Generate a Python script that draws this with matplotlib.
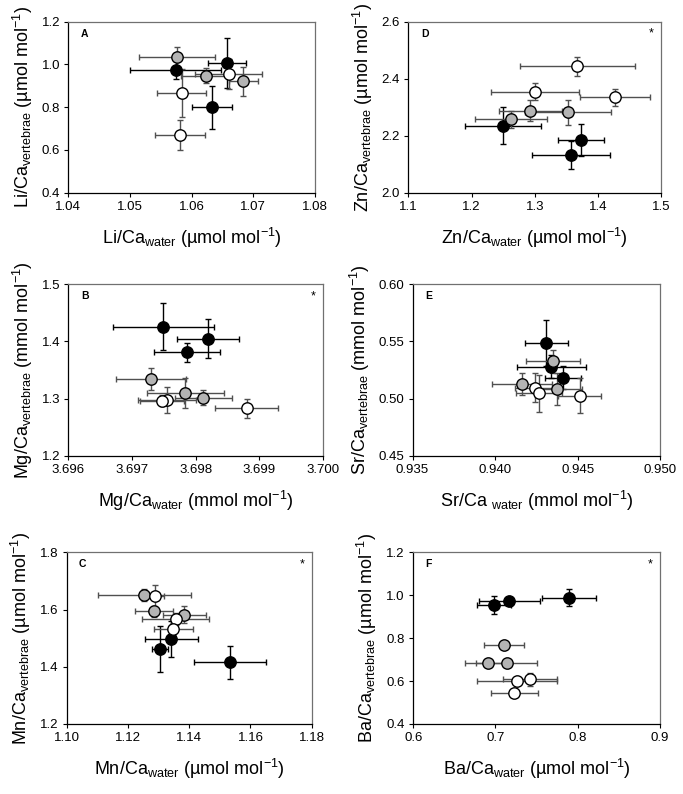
import numpy as np
import matplotlib
matplotlib.use('Agg')
import matplotlib.pyplot as plt

plt.rcParams['font.family'] = ['Liberation Sans', 'DejaVu Sans']
plt.rcParams['mathtext.fontset'] = 'custom'
plt.rcParams['mathtext.rm'] = 'Liberation Sans'
plt.rcParams['mathtext.it'] = 'Liberation Sans:italic'

# === DATA ===
# each panel: black / grey / white groups -> x, y, xerr, yerr

# A  Li/Ca
li_black_x = [1.0574, 1.0657, 1.0633]
li_black_y = [0.974, 1.005, 0.799]
li_black_xe = [0.0074, 0.0031, 0.0032]
li_black_ye = [0.040, 0.117, 0.100]
li_grey_x = [1.0576, 1.0623, 1.0684]
li_grey_y = [1.036, 0.947, 0.922]
li_grey_xe = [0.0062, 0.0040, 0.0023]
li_grey_ye = [0.047, 0.035, 0.068]
li_white_x = [1.0660, 1.0584, 1.0581]
li_white_y = [0.955, 0.865, 0.670]
li_white_xe = [0.0055, 0.0040, 0.0041]
li_white_ye = [0.070, 0.113, 0.070]

# B  Mg/Ca
mg_black_x = [3.69749, 3.69819, 3.69786]
mg_black_y = [1.4256, 1.4041, 1.3808]
mg_black_xe = [0.00079, 0.00049, 0.00052]
mg_black_ye = [0.041, 0.034, 0.017]
mg_grey_x = [3.69730, 3.69784, 3.69812]
mg_grey_y = [1.3343, 1.3093, 1.3017]
mg_grey_xe = [0.00055, 0.00060, 0.00045]
mg_grey_ye = [0.020, 0.026, 0.013]
mg_white_x = [3.69755, 3.69747, 3.69880]
mg_white_y = [1.2977, 1.2967, 1.2831]
mg_white_xe = [0.00045, 0.00035, 0.00050]
mg_white_ye = [0.022, 0.010, 0.017]

# C  Mn/Ca
mn_black_x = [1.1341, 1.1305, 1.1533]
mn_black_y = [1.497, 1.462, 1.4155]
mn_black_xe = [0.0087, 0.0027, 0.0117]
mn_black_ye = [0.063, 0.080, 0.057]
mn_grey_x = [1.1253, 1.1286, 1.1384]
mn_grey_y = [1.651, 1.594, 1.582]
mn_grey_xe = [0.0152, 0.0062, 0.0070]
mn_grey_ye = [0.020, 0.020, 0.030]
mn_white_x = [1.1288, 1.1356, 1.1348]
mn_white_y = [1.646, 1.567, 1.532]
mn_white_xe = [0.0030, 0.0109, 0.0064]
mn_white_ye = [0.040, 0.020, 0.020]

# D  Zn/Ca
zn_black_x = [1.250, 1.373, 1.357]
zn_black_y = [2.235, 2.185, 2.132]
zn_black_xe = [0.060, 0.036, 0.062]
zn_black_ye = [0.064, 0.057, 0.050]
zn_grey_x = [1.293, 1.352, 1.262]
zn_grey_y = [2.288, 2.282, 2.257]
zn_grey_xe = [0.050, 0.068, 0.057]
zn_grey_ye = [0.036, 0.043, 0.030]
zn_white_x = [1.367, 1.300, 1.427]
zn_white_y = [2.444, 2.354, 2.334]
zn_white_xe = [0.091, 0.070, 0.055]
zn_white_ye = [0.033, 0.030, 0.030]

# E  Sr/Ca
sr_black_x = [0.9431, 0.9434, 0.9441]
sr_black_y = [0.5488, 0.5279, 0.5183]
sr_black_xe = [0.0013, 0.0021, 0.0011]
sr_black_ye = [0.020, 0.010, 0.010]
sr_grey_x = [0.9435, 0.94163, 0.94375]
sr_grey_y = [0.5328, 0.5125, 0.5082]
sr_grey_xe = [0.00165, 0.0018, 0.0015]
sr_grey_ye = [0.010, 0.0096, 0.014]
sr_white_x = [0.9424, 0.94266, 0.94512]
sr_white_y = [0.5096, 0.5047, 0.5026]
sr_white_xe = [0.0012, 0.0014, 0.0013]
sr_white_ye = [0.0126, 0.016, 0.015]

# F  Ba/Ca
ba_black_x = [0.6985, 0.7168, 0.7894]
ba_black_y = [0.9543, 0.973, 0.9883]
ba_black_xe = [0.021, 0.037, 0.033]
ba_black_ye = [0.040, 0.020, 0.040]
ba_grey_x = [0.7107, 0.6905, 0.714]
ba_grey_y = [0.7678, 0.6825, 0.6825]
ba_grey_xe = [0.0243, 0.027, 0.037]
ba_grey_ye = [0.010, 0.010, 0.010]
ba_white_x = [0.742, 0.7265, 0.7229]
ba_white_y = [0.609, 0.6014, 0.5426]
ba_white_xe = [0.0325, 0.049, 0.0286]
ba_white_ye = [0.030, 0.010, 0.010]

mu = '\u00b5'

def draw_panel(ax, groups, xlim, xticks, xfmt, ylim, yticks, yfmt, xlabel, ylabel, letter, star):
    face = ['black', '#b4b4b4', 'white']
    bar = ['black', '#505050', '#505050']
    for (x, y, xe, ye), fc, bc in zip(groups, face, bar):
        ax.errorbar(x, y, xerr=xe, yerr=ye, fmt='none', ecolor=bc,
                    elinewidth=1.0, capsize=2.5, capthick=1.0, zorder=2)
    for (x, y, xe, ye), fc in zip(groups, face):
        ax.plot(x, y, 'o', ms=8.2, mfc=fc, mec='black', mew=1.0, zorder=3, ls='none')

    ax.set_xlim(*xlim)
    ax.set_ylim(*ylim)
    ax.set_xticks(xticks)
    ax.set_yticks(yticks)
    ax.set_xticklabels([xfmt.format(v) for v in xticks])
    ax.set_yticklabels([yfmt.format(v) for v in yticks])
    ax.tick_params(direction='out', length=3, width=0.8, labelsize=9.5, pad=3)
    for s in ['left', 'bottom']:
        ax.spines[s].set_color('black')
        ax.spines[s].set_linewidth(0.9)
    for s in ['top', 'right']:
        ax.spines[s].set_color('#707070')
        ax.spines[s].set_linewidth(0.9)
    ax.set_xlabel(xlabel, fontsize=13, labelpad=9)
    ax.set_ylabel(ylabel, fontsize=13, labelpad=5)
    ax.text(0.05, 0.93, letter, transform=ax.transAxes, fontsize=7.5,
            fontweight='bold', ha='left', va='center')
    if star:
        ax.text(0.96, 0.93, '*', transform=ax.transAxes, fontsize=9,
                ha='center', va='center')


fig = plt.figure(figsize=(6.83, 7.94), dpi=100)

axA = fig.add_axes([0.100, 0.7573, 0.361, 0.2154])
axD = fig.add_axes([0.598, 0.7573, 0.370, 0.2154])
axB = fig.add_axes([0.100, 0.4257, 0.373, 0.2166])
axE = fig.add_axes([0.604, 0.4257, 0.363, 0.2166])
axC = fig.add_axes([0.0977, 0.0882, 0.3587, 0.2162])
axF = fig.add_axes([0.605, 0.0882, 0.361, 0.2162])

draw_panel(axA,
           [(li_black_x, li_black_y, li_black_xe, li_black_ye),
            (li_grey_x, li_grey_y, li_grey_xe, li_grey_ye),
            (li_white_x, li_white_y, li_white_xe, li_white_ye)],
           (1.04, 1.08), [1.04, 1.05, 1.06, 1.07, 1.08], '{:.2f}',
           (0.4, 1.2), [0.4, 0.6, 0.8, 1.0, 1.2], '{:.1f}',
           r'Li/Ca$_{\mathrm{water}}$ (' + mu + r'mol mol$^{\mathrm{-1}}$)',
           r'Li/Ca$_{\mathrm{vertebrae}}$ (' + mu + r'mol mol$^{\mathrm{-1}}$)',
           'A', False)

draw_panel(axD,
           [(zn_black_x, zn_black_y, zn_black_xe, zn_black_ye),
            (zn_grey_x, zn_grey_y, zn_grey_xe, zn_grey_ye),
            (zn_white_x, zn_white_y, zn_white_xe, zn_white_ye)],
           (1.1, 1.5), [1.1, 1.2, 1.3, 1.4, 1.5], '{:.1f}',
           (2.0, 2.6), [2.0, 2.2, 2.4, 2.6], '{:.1f}',
           r'Zn/Ca$_{\mathrm{water}}$ (' + mu + r'mol mol$^{\mathrm{-1}}$)',
           r'Zn/Ca$_{\mathrm{vertebrae}}$ (' + mu + r'mol mol$^{\mathrm{-1}}$)',
           'D', True)

draw_panel(axB,
           [(mg_black_x, mg_black_y, mg_black_xe, mg_black_ye),
            (mg_grey_x, mg_grey_y, mg_grey_xe, mg_grey_ye),
            (mg_white_x, mg_white_y, mg_white_xe, mg_white_ye)],
           (3.696, 3.700), [3.696, 3.697, 3.698, 3.699, 3.700], '{:.3f}',
           (1.2, 1.5), [1.2, 1.3, 1.4, 1.5], '{:.1f}',
           r'Mg/Ca$_{\mathrm{water}}$ (mmol mol$^{\mathrm{-1}}$)',
           r'Mg/Ca$_{\mathrm{vertebrae}}$ (mmol mol$^{\mathrm{-1}}$)',
           'B', True)

draw_panel(axE,
           [(sr_black_x, sr_black_y, sr_black_xe, sr_black_ye),
            (sr_grey_x, sr_grey_y, sr_grey_xe, sr_grey_ye),
            (sr_white_x, sr_white_y, sr_white_xe, sr_white_ye)],
           (0.935, 0.950), [0.935, 0.940, 0.945, 0.950], '{:.3f}',
           (0.45, 0.60), [0.45, 0.50, 0.55, 0.60], '{:.2f}',
           r'Sr/Ca $_{\mathrm{water}}$ (mmol mol$^{\mathrm{-1}}$)',
           r'Sr/Ca$_{\mathrm{vertebrae}}$ (mmol mol$^{\mathrm{-1}}$)',
           'E', False)

draw_panel(axC,
           [(mn_black_x, mn_black_y, mn_black_xe, mn_black_ye),
            (mn_grey_x, mn_grey_y, mn_grey_xe, mn_grey_ye),
            (mn_white_x, mn_white_y, mn_white_xe, mn_white_ye)],
           (1.10, 1.18), [1.10, 1.12, 1.14, 1.16, 1.18], '{:.2f}',
           (1.2, 1.8), [1.2, 1.4, 1.6, 1.8], '{:.1f}',
           r'Mn/Ca$_{\mathrm{water}}$ (' + mu + r'mol mol$^{\mathrm{-1}}$)',
           r'Mn/Ca$_{\mathrm{vertebrae}}$ (' + mu + r'mol mol$^{\mathrm{-1}}$)',
           'C', True)

draw_panel(axF,
           [(ba_black_x, ba_black_y, ba_black_xe, ba_black_ye),
            (ba_grey_x, ba_grey_y, ba_grey_xe, ba_grey_ye),
            (ba_white_x, ba_white_y, ba_white_xe, ba_white_ye)],
           (0.6, 0.9), [0.6, 0.7, 0.8, 0.9], '{:.1f}',
           (0.4, 1.2), [0.4, 0.6, 0.8, 1.0, 1.2], '{:.1f}',
           r'Ba/Ca$_{\mathrm{water}}$ (' + mu + r'mol mol$^{\mathrm{-1}}$)',
           r'Ba/Ca$_{\mathrm{vertebrae}}$ (' + mu + r'mol mol$^{\mathrm{-1}}$)',
           'F', True)

fig.savefig('out.png', dpi=100)
